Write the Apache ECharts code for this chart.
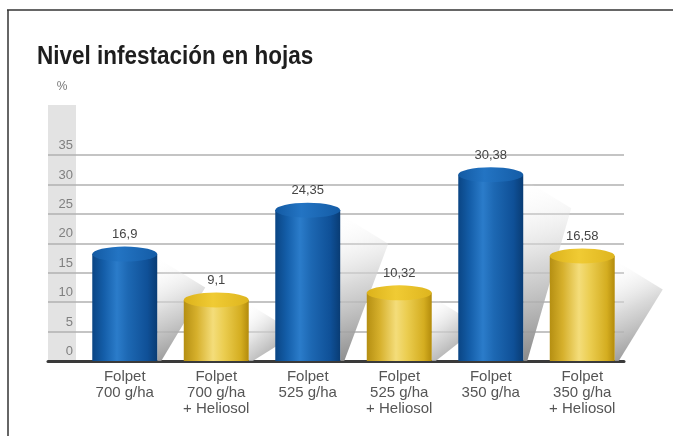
<!DOCTYPE html>
<html><head><meta charset="utf-8">
<script src="https://cdn.jsdelivr.net/npm/echarts@6/dist/echarts.min.js"></script>
<style>html,body{margin:0;padding:0;background:#fff}#c{width:673px;height:436px}</style>
</head><body><div id="c"></div>
<script>
const title = 'Nivel infestación en hojas';
const unit = '%';
const categories = ['Folpet\n700 g/ha', 'Folpet\n700 g/ha\n+ Heliosol', 'Folpet\n525 g/ha', 'Folpet\n525 g/ha\n+ Heliosol', 'Folpet\n350 g/ha', 'Folpet\n350 g/ha\n+ Heliosol'];
const values = [16.9, 9.1, 24.35, 10.32, 30.38, 16.58];
const yTicks = [0, 5, 10, 15, 20, 25, 30, 35];

const yMin = yTicks[0], yMax = yTicks[yTicks.length - 1], yStep = yTicks[1] - yTicks[0];
const fmt = v => String(v).replace('.', ',');

const blueBody = {type:'linear',x:0,y:0,x2:1,y2:0,colorStops:[
  {offset:0,color:'#0a4584'},{offset:0.18,color:'#145ea9'},{offset:0.38,color:'#2b7cca'},
  {offset:0.55,color:'#1d68b3'},{offset:0.85,color:'#0f5097'},{offset:1,color:'#093c74'}]};
const blueTop = {type:'linear',x:0,y:0,x2:1,y2:0,colorStops:[
  {offset:0,color:'#135aa3'},{offset:0.4,color:'#2374c3'},{offset:1,color:'#145ca6'}]};
const yellowBody = {type:'linear',x:0,y:0,x2:1,y2:0,colorStops:[
  {offset:0,color:'#b58f12'},{offset:0.2,color:'#d6b02c'},{offset:0.45,color:'#f4dd7a'},
  {offset:0.62,color:'#ebcd50'},{offset:0.88,color:'#d4ad20'},{offset:1,color:'#b38b0c'}]};
const yellowTop = {type:'linear',x:0,y:0,x2:1,y2:0,colorStops:[
  {offset:0,color:'#dcb21a'},{offset:0.45,color:'#f0cb34'},{offset:1,color:'#deb51e'}]};
const shadowFill = {type:'linear',x:0,y:0,x2:1,y2:1,colorStops:[
  {offset:0,color:'rgba(255,255,255,0)'},{offset:0.45,color:'rgba(205,205,205,0.75)'},{offset:1,color:'rgba(125,125,125,1)'}]};

function renderItem(params, api) {
  const i = api.value(0), v = api.value(1);
  const top = api.coord([i, v]);
  const base = api.coord([i, yMin]);
  const band = api.size([1, 0])[0];
  const rx = band * 0.355, ry = rx * 0.23;
  const cx = top[0], yt = top[1], yb = base[1];
  const xr = cx + rx;
  const heli = categories[i].indexOf('Heliosol') >= 0;
  return {
    type: 'group',
    children: [
      {type:'polygon', shape:{points:[[xr, yt - ry + 4],[xr + 48, yt + 26],[xr + 4, yb],[xr, yb]]},
       style:{fill: shadowFill}},
      {type:'rect', shape:{x: cx - rx, y: yt - ry, width: 2 * rx, height: yb - (yt - ry)},
       style:{fill: heli ? yellowBody : blueBody}},
      {type:'circle', x: cx, y: yt - ry, scaleY: ry / rx, shape:{cx:0, cy:0, r: rx},
       style:{fill: heli ? yellowTop : blueTop}},
      {type:'text', x: cx, y: yt - 2 * ry - 12,
       style:{text: fmt(v), fill:'#454545', font:'13px "Liberation Sans", Arial, sans-serif',
              align:'center', verticalAlign:'middle', textAlign:'center', textVerticalAlign:'middle'}}
    ]
  };
}

const chart = echarts.init(document.getElementById('c'), null, {renderer:'canvas'});
chart.setOption({
  backgroundColor: '#ffffff',
  animation: false,
  graphic: [
    {type:'line', shape:{x1:7, y1:10, x2:673, y2:10}, style:{stroke:'#333', lineWidth:1.5}},
    {type:'line', shape:{x1:8, y1:10, x2:8, y2:436}, style:{stroke:'#333', lineWidth:1.5}},
    {type:'rect', z:-10, shape:{x:48, y:105, width:28, height:256}, style:{fill:'#e3e3e3'}},
    {type:'text', x:37, y:57, scaleX:0.9,
     style:{text: title, fill:'#1e1e1e', font:'bold 25px "Liberation Sans", Arial, sans-serif',
       align:'left', verticalAlign:'middle', textAlign:'left', textVerticalAlign:'middle'}},
    {type:'text', x:62, y:87, style:{text: unit, fill:'#777', font:'12px "Liberation Sans", Arial, sans-serif',
      align:'center', verticalAlign:'middle', textAlign:'center', textVerticalAlign:'middle'}}
  ],
  grid: [
    {left:48, right:49, top:155, bottom:75},
    {left:79, right:45, top:155, bottom:75}
  ],
  xAxis: [
    {gridIndex:0, type:'value', min:0, max:1, axisLabel:{show:false}, axisTick:{show:false},
     splitLine:{show:false}, axisLine:{show:true, lineStyle:{color:'#3a3a3a', width:3}}},
    {gridIndex:1, type:'category', data: categories, axisLine:{show:false}, axisTick:{show:false},
     axisLabel:{interval:0, margin:8, color:'#555', fontSize:15, lineHeight:16,
       fontFamily:'"Liberation Sans", Arial, sans-serif'}}
  ],
  yAxis: [
    {gridIndex:0, type:'value', min:yMin, max:yMax, interval:yStep,
     axisLine:{show:false}, axisTick:{show:false},
     splitLine:{show:true, lineStyle:{color:'#b0b0b0', width:1.5}},
     axisLabel:{inside:true, margin:25, align:'right', verticalAlign:'bottom', lineHeight:19,
       color:'#808080', fontSize:13, fontFamily:'"Liberation Sans", Arial, sans-serif'}},
    {gridIndex:1, type:'value', min:yMin, max:yMax, interval:yStep, show:false}
  ],
  series: [{
    type:'custom', xAxisIndex:1, yAxisIndex:1, z:5,
    renderItem: renderItem,
    data: values.map((v, i) => [i, v])
  }]
});
</script>
</body></html>
